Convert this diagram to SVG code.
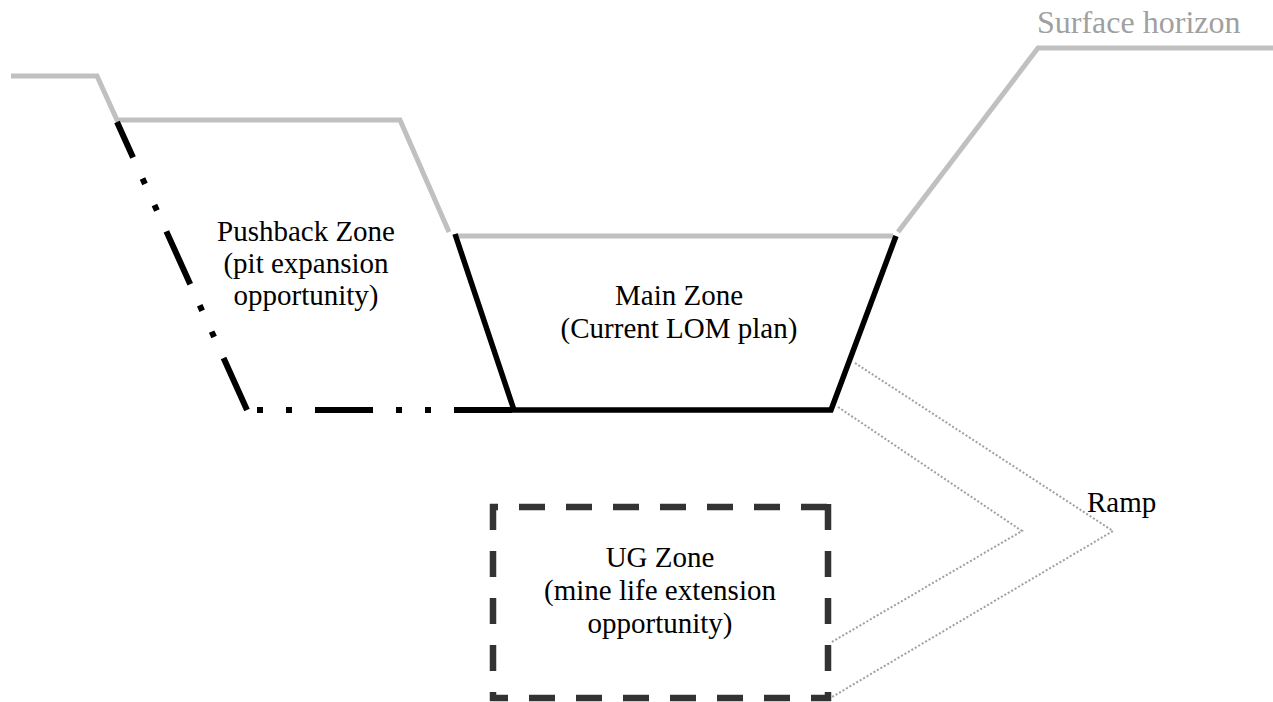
<svg xmlns="http://www.w3.org/2000/svg" width="1273" height="702" viewBox="0 0 1273 702">
<style>
.txt{font-family:"Liberation Serif","Times New Roman",serif;font-size:29px;fill:#000;text-anchor:middle}
.grey{fill:none;stroke:#c0c0c0;stroke-width:5;stroke-linejoin:miter}
.blk{fill:none;stroke:#000;stroke-width:5.5}
.dashdot{fill:none;stroke:#000;stroke-width:6;stroke-dasharray:58 23 6 23 6 23}
.ug{fill:none;stroke:#333;stroke-width:6.5;stroke-dasharray:26 21}
.ramp{fill:none;stroke:#a0a0a0;stroke-width:2;stroke-dasharray:2 2}
</style>
<rect width="1273" height="702" fill="#fff"/>
<g id="surface">
<polyline class="grey" points="11,76 97,76 117,120 400,120 449,232"/>
<polyline class="grey" points="457,236 893,236"/>
<polyline class="grey" points="898,232 1038,48 1273,48"/>
<text x="1037" y="33" style="font-family:'Liberation Serif','Times New Roman',serif;font-size:32px;fill:#a0a0a0">Surface horizon</text>
</g>
<g id="pushback">
<line class="dashdot" x1="117" y1="122" x2="247" y2="410" stroke-dashoffset="19"/>
<line class="dashdot" x1="247" y1="410" x2="514" y2="410" stroke-dashoffset="71"/>
<text class="txt" x="306" y="241">Pushback Zone</text>
<text class="txt" x="306" y="273">(pit expansion</text>
<text class="txt" x="306" y="305">opportunity)</text>
</g>
<g id="main">
<polyline class="blk" points="455,234 514,410 831,410 896,236"/>
<text class="txt" x="679" y="305">Main Zone</text>
<text class="txt" x="679" y="338">(Current LOM plan)</text>
</g>
<g id="ug">
<line class="ug" x1="490" y1="507" x2="831" y2="507" stroke-dashoffset="18"/>
<line class="ug" x1="490" y1="698" x2="831" y2="698" stroke-dashoffset="8"/>
<line class="ug" x1="493" y1="504" x2="493" y2="701"/>
<line class="ug" x1="828" y1="504" x2="828" y2="701"/>
<text class="txt" x="660" y="567">UG Zone</text>
<text class="txt" x="660" y="600">(mine life extension</text>
<text class="txt" x="660" y="633">opportunity)</text>
</g>
<g id="connectors">
<polyline class="ramp" points="855,363 1113,531 832,697"/>
<polyline class="ramp" points="838,407 1022,531 830,643"/>
</g>
<g id="ramp-label">
<text x="1087" y="512" style="font-family:'Liberation Serif','Times New Roman',serif;font-size:29px;fill:#000">Ramp</text>
</g>
</svg>
